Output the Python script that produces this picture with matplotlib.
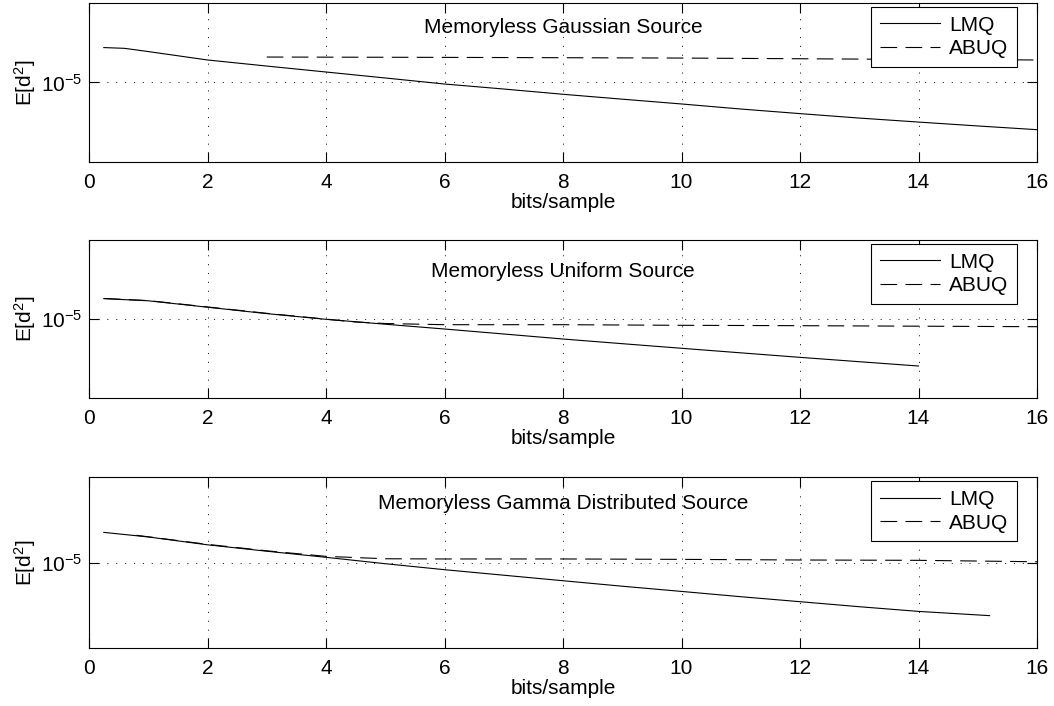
import matplotlib
matplotlib.use("Agg")
import matplotlib.pyplot as plt
from matplotlib.ticker import NullLocator, FixedLocator

plt.rcParams['font.family'] = ['Liberation Sans', 'DejaVu Sans']
plt.rcParams['mathtext.fontset'] = 'custom'
plt.rcParams['mathtext.rm'] = 'Liberation Sans'
plt.rcParams['mathtext.it'] = 'Liberation Sans:italic'
plt.rcParams['mathtext.bf'] = 'Liberation Sans:bold'
plt.rcParams['lines.scale_dashes'] = False

# ---- data: mean squared error vs. rate (bits/sample) ----
titles = ["Memoryless Gaussian Source",
          "Memoryless Uniform Source",
          "Memoryless Gamma Distributed Source"]

# Gaussian source
gauss_lmq_x = [0.25, 0.6, 1, 2, 3, 4, 5, 6, 7, 8, 9, 10, 11, 12, 13, 14, 15, 16]
gauss_lmq_y = [2.75e-5, 2.69e-5, 2.45e-5, 1.92e-5, 1.61e-5, 1.355e-5, 1.14e-5,
               9.57e-6, 8.28e-6, 7.11e-6, 6.17e-6, 5.37e-6, 4.64e-6, 4.06e-6,
               3.57e-6, 3.18e-6, 2.84e-6, 2.55e-6]
gauss_abuq_x = [3, 6, 8, 10, 12, 14, 16]
gauss_abuq_y = [2.09e-5, 2.07e-5, 2.05e-5, 2.03e-5, 1.99e-5, 1.95e-5, 1.92e-5]

# Uniform source
unif_lmq_x = [0.25, 1, 2, 3, 4, 5, 6, 7, 8, 9, 10, 11, 12, 13, 14]
unif_lmq_y = [1.81e-5, 1.70e-5, 1.41e-5, 1.17e-5, 9.91e-6, 8.59e-6, 7.47e-6,
              6.46e-6, 5.58e-6, 4.87e-6, 4.26e-6, 3.73e-6, 3.27e-6, 2.88e-6,
              2.54e-6]
unif_abuq_x = [0.25, 1, 2, 3, 4, 4.5, 5, 6, 8, 10, 12, 14, 16]
unif_abuq_y = [1.82e-5, 1.71e-5, 1.42e-5, 1.18e-5, 9.95e-6, 9.16e-6, 8.77e-6,
               8.47e-6, 8.47e-6, 8.32e-6, 8.23e-6, 8.11e-6, 7.99e-6]

# Gamma distributed source
gamma_lmq_x = [0.25, 1, 2, 3, 4, 5, 6, 7, 8, 9, 10, 11, 12, 13, 14, 15.2]
gamma_lmq_y = [2.25e-5, 1.99e-5, 1.61e-5, 1.355e-5, 1.15e-5, 9.68e-6, 8.24e-6,
               7.10e-6, 6.12e-6, 5.28e-6, 4.59e-6, 3.98e-6, 3.48e-6, 3.04e-6,
               2.68e-6, 2.39e-6]
gamma_abuq_x = [0.8, 2, 3, 4, 5, 6, 8, 10, 12, 14, 16]
gamma_abuq_y = [2.08e-5, 1.63e-5, 1.37e-5, 1.18e-5, 1.106e-5, 1.10e-5, 1.10e-5,
                1.088e-5, 1.07e-5, 1.06e-5, 1.02e-5]

series = [(gauss_lmq_x, gauss_lmq_y, gauss_abuq_x, gauss_abuq_y),
          (unif_lmq_x, unif_lmq_y, unif_abuq_x, unif_abuq_y),
          (gamma_lmq_x, gamma_lmq_y, gamma_abuq_x, gamma_abuq_y)]

x_ticks = [0, 2, 4, 6, 8, 10, 12, 14, 16]
y_ticks = [1e-5]

# ---- layout ----
W, H = 1054, 706
fig = plt.figure(figsize=(W / 100, H / 100), dpi=100)
panels = [(3, 162), (240, 398), (477, 648)]   # top/bottom edges in pixels
left_px, right_px = 89, 1037
title_y = [0.81, 0.768, 0.813]

FS = 15
grid_style = (0, (0.8, 5.6))
for i, ((top, bot), (lx, ly, ax_, ay)) in enumerate(zip(panels, series)):
    ax = fig.add_axes([left_px / W, 1 - bot / H, (right_px - left_px) / W, (bot - top) / H])
    ax.plot(lx, ly, color='black', lw=0.8, label='LMQ')
    ax.plot(ax_, ay, color='black', lw=0.8, ls=(0, (12, 6)), label='ABUQ')
    ax.set_yscale('log')
    ax.set_xlim(0, 16)
    ax.set_ylim(1e-6, 1e-4)
    ax.xaxis.set_major_locator(FixedLocator(x_ticks))
    ax.yaxis.set_major_locator(FixedLocator(y_ticks))
    ax.yaxis.set_minor_locator(NullLocator())
    ax.xaxis.set_minor_locator(NullLocator())
    ax.grid(True, which='major', color='black', lw=0.6, ls=grid_style)
    ax.tick_params(direction='in', length=7, width=0.8, top=True, right=True,
                   labelsize=FS, colors='black')
    ax.tick_params(axis='x', pad=8)
    ax.tick_params(axis='y', pad=5)
    for sp in ax.spines.values():
        sp.set_linewidth(0.8)
    ax.set_xlabel('bits/sample', fontsize=FS, labelpad=1)
    ax.set_ylabel(r'E[d$^2$]', fontsize=FS, labelpad=2)
    ax.text(0.5, title_y[i], titles[i], transform=ax.transAxes,
            ha='center', va='baseline', fontsize=FS)
    leg = ax.legend(loc='upper right', bbox_to_anchor=(0.979, 0.975),
                    borderaxespad=0, fontsize=FS, handlelength=2.9,
                    handletextpad=0.42, labelspacing=0.22, borderpad=0.42,
                    fancybox=False, framealpha=1, edgecolor='black')
    leg.get_frame().set_linewidth(0.8)

fig.savefig('out.png', dpi=100)
